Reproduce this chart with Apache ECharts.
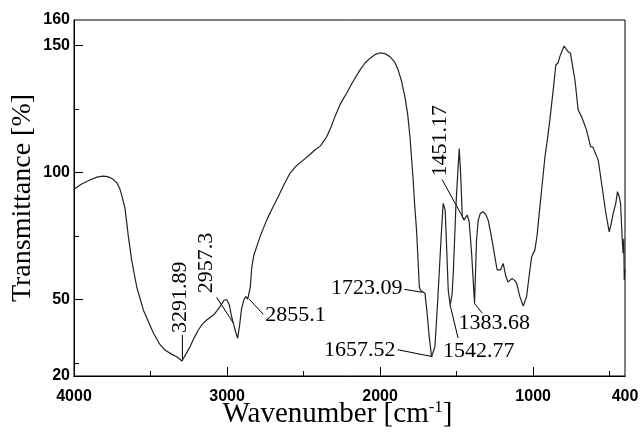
<!DOCTYPE html>
<html>
<head>
<meta charset="utf-8">
<script src="https://cdn.jsdelivr.net/npm/echarts@6/dist/echarts.min.js"></script>
<style>
html,body{margin:0;padding:0;background:#fff;}
#chart{width:640px;height:432px;}
</style>
</head>
<body>
<div id="chart"></div>
<script>
const wavenumber = [4000,3950,3900,3850,3810,3780,3750,3720,3700,3688,3667,3645,3623,3590,3547,3500,3482,3440,3406,3360,3329,3295,3270,3242,3215,3188,3160,3133,3100,3079,3046,3020,3003,2985,2970,2959,2945,2931,2918,2905,2890,2877,2865,2855,2848,2839,2825,2807,2780,2741,2700,2666,2630,2589,2550,2502,2460,2426,2390,2349,2320,2295,2260,2219,2180,2132,2100,2067,2030,2001,1970,1936,1905,1882,1860,1838,1820,1805,1795,1784,1775,1762,1750,1744,1735,1723,1707,1695,1680,1664,1650,1642,1628,1614,1600,1588,1575,1565,1555,1542,1530,1522,1505,1494,1483,1474,1463,1451,1440,1431,1418,1402,1387,1383,1370,1359,1345,1327,1310,1294,1278,1261,1245,1235,1213,1196,1178,1165,1157,1137,1120,1108,1087,1065,1043,1025,1010,989,975,956,940,923,905,891,869,852,837,826,810,797,785,771,756,740,727,706,684,665,651,625,610,597,575,553,525,503,490,477,460,449,440,429,418,412,408,405,400];
const transmittance = [93.4,95.5,97.0,98.2,98.6,98.4,97.6,96.0,93.5,91.0,86.0,75.0,65.5,55.0,46.0,39.5,37.0,32.5,30.2,28.5,27.6,25.9,28.5,31.5,35.0,38.1,40.5,42.0,43.5,44.6,47.3,49.8,50.1,48.0,43.3,40.7,37.5,34.8,40.0,46.5,50.0,51.2,50.2,50.0,55.0,62.5,67.5,70.8,75.5,81.3,86.5,90.5,95.0,99.7,102.5,104.9,107.0,108.9,110.5,114.1,118.0,122.0,127.0,131.2,135.5,140.3,143.0,144.9,146.5,147.1,146.8,145.6,143.5,140.3,136.0,129.8,123.0,114.1,106.0,97.1,88.0,77.4,63.0,55.1,53.6,52.9,52.5,46.0,36.0,27.6,30.0,31.5,45.0,60.4,76.0,87.9,85.3,70.0,53.8,47.9,52.0,60.4,86.6,98.4,109.5,99.7,82.6,81.3,82.5,83.3,80.7,68.2,52.5,48.6,73.5,81.3,84.0,84.6,83.5,81.3,76.5,70.8,65.0,61.7,61.7,64.3,59.1,57.0,56.5,58.4,57.5,56.5,51.2,47.5,51.2,60.0,66.9,69.5,75.0,86.6,96.0,106.2,114.0,120.7,132.5,142.3,143.2,145.6,148.0,149.8,148.6,147.5,146.9,141.0,136.4,124.6,122.0,119.0,116.7,110.2,110.0,109.5,104.9,95.8,84.0,76.7,80.0,84.0,88.0,92.5,91.0,87.9,73.5,68.2,74.0,57.8,62.0];

const xTickLabels = [4000,3000,2000,1000,400];
const xMajorTicks = [3000,2000,1000];
const xMinorTicks = [3500,2500,1500,500];
const yTickLabels = [20,50,100,150,160];
const yMajorTicks = [50,100,150];
const yMinorTicks = [25,75,125];

const peakLabels = ['3291.89','2957.3','2855.1','1723.09','1657.52','1542.77','1451.17','1383.68'];
const peakWn = [3291.89,2957.3,2855.1,1723.09,1657.52,1542.77,1451.17,1383.68];
const peakT = [25.9,40.7,50.2,52.9,27.6,47.9,81.5,48.6];

const seriesData = wavenumber.map((w,i)=>[w, transmittance[i]]);

const chart = echarts.init(document.getElementById('chart'), null, {renderer:'canvas'});
const tickFont = {color:'#000', fontFamily:'"Liberation Sans", Arial, sans-serif', fontWeight:'bold', fontSize:16, formatter:(v)=>String(v)};
const axisCommon = {
  axisLine:{show:true, lineStyle:{color:'#000', width:1}},
  splitLine:{show:false}
};
chart.setOption({
  animation:false,
  backgroundColor:'#fff',
  grid:{left:74, right:15, top:20, bottom:56, show:true, borderColor:'#000', borderWidth:1, backgroundColor:'transparent', containLabel:false, outerBoundsMode:'none'},
  xAxis:[
    Object.assign({
      type:'value', min:400, max:4000, inverse:true, position:'bottom',
      name:'Wavenumber [cm{sup|-1}]', nameLocation:'middle', nameGap:23, nameMoveOverlap:false,
      nameTextStyle:{fontFamily:'"Liberation Serif", "Times New Roman", serif', fontSize:29, color:'#000', padding:[0,24,0,0],
        rich:{sup:{fontFamily:'"Liberation Serif", serif', fontSize:17, color:'#000', padding:[0,0,14,0]}}},
      axisLabel:Object.assign({customValues:xTickLabels, margin:13}, tickFont),
      axisTick:{show:true, inside:true, length:9, customValues:xMajorTicks, lineStyle:{color:'#000', width:1}}
    }, axisCommon),
    Object.assign({
      type:'value', min:400, max:4000, inverse:true, position:'bottom',
      axisLabel:{show:false},
      axisTick:{show:true, inside:true, length:5, customValues:xMinorTicks, lineStyle:{color:'#000', width:1}}
    }, axisCommon)
  ],
  yAxis:[
    Object.assign({
      type:'value', min:20, max:160, position:'left',
      name:'Transmittance [%]', nameLocation:'middle', nameGap:37, nameRotate:90, nameMoveOverlap:false,
      nameTextStyle:{fontFamily:'"Liberation Serif", "Times New Roman", serif', fontSize:28, color:'#000'},
      axisLabel:Object.assign({customValues:yTickLabels, margin:4}, tickFont),
      axisTick:{show:true, inside:true, length:9, customValues:yMajorTicks, lineStyle:{color:'#000', width:1}}
    }, axisCommon),
    Object.assign({
      type:'value', min:20, max:160, position:'left',
      axisLabel:{show:false},
      axisTick:{show:true, inside:true, length:5, customValues:yMinorTicks, lineStyle:{color:'#000', width:1}}
    }, axisCommon)
  ],
  series:[{
    type:'line', xAxisIndex:0, yAxisIndex:0, data:seriesData, showSymbol:false, symbol:'none',
    lineStyle:{color:'#222', width:1.2}, silent:true
  }]
});

// annotation layout (pixel offsets relative to the anchor point on the curve)
const annotLayout = [
  {lead:[0,-26], text:[-2,-28], rot:true,  align:'left'},
  {lead:[-17,-26], text:[-27,-30], rot:true, align:'left'},
  {lead:[14,15], text:[16,16], rot:false, align:'left'},
  {lead:[-18,-3], text:[-20,-4], rot:false, align:'right'},
  {lead:[-35,-7], text:[-37,-6], rot:false, align:'right'},
  {lead:[8,33], text:[-7,46], rot:false, align:'left'},
  {lead:[-22,-40], text:[-24,-43], rot:true, align:'left'},
  {lead:[8,10], text:[-16,20], rot:false, align:'left'}
];
const annotFont = '22px "Liberation Serif", "Times New Roman", serif';
const graphics = [];
peakLabels.forEach((lab,i)=>{
  const p = chart.convertToPixel({xAxisIndex:0, yAxisIndex:0}, [peakWn[i], peakT[i]]);
  const L = annotLayout[i];
  graphics.push({type:'line', silent:true, shape:{x1:p[0], y1:p[1], x2:p[0]+L.lead[0], y2:p[1]+L.lead[1]}, style:{stroke:'#000', lineWidth:1}});
  graphics.push({type:'text', silent:true, x:p[0]+L.text[0], y:p[1]+L.text[1], rotation:L.rot?Math.PI/2:0,
    style:{text:lab, font:annotFont, fill:'#000', align:L.align, verticalAlign:'middle'}});
});
chart.setOption({graphic:graphics});
</script>
</body>
</html>
